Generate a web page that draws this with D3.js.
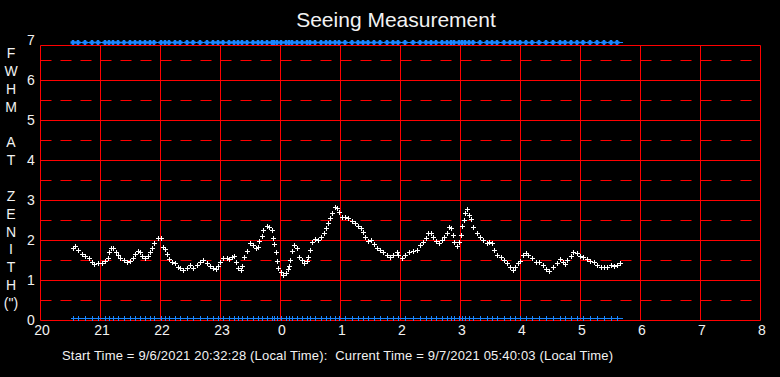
<!DOCTYPE html>
<html>
<head>
<meta charset="utf-8">
<script src="https://cdn.jsdelivr.net/npm/d3@7"></script>
<style>
  html, body { margin: 0; padding: 0; background: #000; }
  svg { display: block; font-family: "Liberation Sans", Arial, sans-serif; }
</style>
</head>
<body>
<svg id="chart" width="780" height="377"></svg>
<script>

/****************************/
/*           Data           */
/****************************/
// measurement times, decimal local hours (past midnight keeps counting: 24 = 0h)
const times = [
  20.555, 20.583, 20.638, 20.695, 20.75, 20.817, 20.862, 20.905, 20.972, 21.038,
  21.083, 21.128, 21.15, 21.183, 21.222, 21.262, 21.295, 21.338, 21.395, 21.45,
  21.505, 21.55, 21.583, 21.628, 21.667, 21.705, 21.75, 21.795, 21.833, 21.872,
  21.905, 21.962, 22.017, 22.055, 22.083, 22.112, 22.15, 22.195, 22.25, 22.305,
  22.333, 22.388, 22.445, 22.5, 22.555, 22.612, 22.667, 22.722, 22.778, 22.833,
  22.888, 22.928, 22.962, 23.0, 23.055, 23.112, 23.15, 23.195, 23.238, 23.267,
  23.305, 23.345, 23.372, 23.405, 23.445, 23.5, 23.555, 23.595, 23.628, 23.65,
  23.695, 23.722, 23.778, 23.817, 23.862, 23.878, 23.905, 23.928, 23.945, 23.972,
  24.017, 24.055, 24.095, 24.128, 24.155, 24.172, 24.195, 24.238, 24.278, 24.317,
  24.362, 24.405, 24.445, 24.472, 24.5, 24.538, 24.583, 24.628, 24.683, 24.728,
  24.772, 24.805, 24.838, 24.872, 24.917, 24.945, 24.983, 25.028, 25.083, 25.138,
  25.195, 25.25, 25.305, 25.35, 25.378, 25.417, 25.472, 25.517, 25.562, 25.612,
  25.667, 25.722, 25.778, 25.833, 25.888, 25.945, 25.972, 26.028, 26.083, 26.155,
  26.222, 26.278, 26.333, 26.388, 26.433, 26.472, 26.512, 26.555, 26.6, 26.655,
  26.695, 26.738, 26.778, 26.822, 26.845, 26.878, 26.905, 26.945, 26.988, 27.012,
  27.038, 27.067, 27.088, 27.122, 27.155, 27.178, 27.222, 27.278, 27.333, 27.388,
  27.445, 27.488, 27.528, 27.567, 27.622, 27.678, 27.733, 27.788, 27.833, 27.878,
  27.917, 27.972, 28.0, 28.055, 28.1, 28.138, 28.195, 28.267, 28.322, 28.378,
  28.433, 28.488, 28.555, 28.612, 28.667, 28.712, 28.75, 28.788, 28.845, 28.888,
  28.945, 29.0, 29.055, 29.112, 29.167, 29.233, 29.288, 29.345, 29.4, 29.455,
  29.512, 29.567, 29.622, 29.667
];

// FWHM at zenith, arcsec
const fwhm = [
  1.81, 1.86, 1.75, 1.64, 1.6, 1.54, 1.46, 1.39, 1.42, 1.43,
  1.47, 1.54, 1.69, 1.79, 1.81, 1.71, 1.63, 1.54, 1.5, 1.46,
  1.47, 1.54, 1.64, 1.73, 1.69, 1.61, 1.56, 1.6, 1.69, 1.79,
  1.92, 2.06, 2.04, 1.83, 1.78, 1.64, 1.52, 1.46, 1.42, 1.33,
  1.3, 1.25, 1.31, 1.38, 1.31, 1.38, 1.46, 1.5, 1.42, 1.35,
  1.29, 1.27, 1.36, 1.46, 1.56, 1.56, 1.53, 1.58, 1.61, 1.46,
  1.29, 1.25, 1.36, 1.58, 1.73, 1.92, 1.88, 1.79, 1.83, 1.98,
  2.11, 2.25, 2.36, 2.33, 2.25, 2.04, 1.89, 1.69, 1.47, 1.31,
  1.21, 1.13, 1.17, 1.27, 1.36, 1.5, 1.73, 1.88, 1.79, 1.58,
  1.5, 1.43, 1.47, 1.58, 1.75, 1.94, 2.02, 2.0, 2.08, 2.17,
  2.29, 2.42, 2.54, 2.67, 2.83, 2.79, 2.69, 2.58, 2.58, 2.54,
  2.48, 2.42, 2.36, 2.29, 2.21, 2.08, 1.98, 2.0, 1.89, 1.79,
  1.75, 1.69, 1.63, 1.58, 1.63, 1.69, 1.63, 1.54, 1.63, 1.71,
  1.73, 1.75, 1.88, 1.96, 2.04, 2.17, 2.18, 2.08, 1.98, 1.93,
  2.0, 2.08, 2.18, 2.33, 2.29, 2.13, 1.96, 1.85, 1.96, 2.13,
  2.35, 2.5, 2.67, 2.77, 2.63, 2.52, 2.33, 2.17, 2.08, 2.0,
  1.92, 1.96, 1.92, 1.75, 1.63, 1.57, 1.5, 1.43, 1.33, 1.25,
  1.32, 1.43, 1.48, 1.63, 1.68, 1.63, 1.54, 1.46, 1.46, 1.38,
  1.27, 1.23, 1.33, 1.43, 1.52, 1.46, 1.4, 1.5, 1.6, 1.69,
  1.67, 1.6, 1.57, 1.52, 1.48, 1.46, 1.38, 1.32, 1.33, 1.32,
  1.38, 1.35, 1.38, 1.42, 1.52
];

const xTicks = [20, 21, 22, 23, 24, 25, 26, 27, 28, 29, 30, 31, 32];
const yTicks = [0, 1, 2, 3, 4, 5, 6, 7];
const yHalfTicks = [0.5, 1.5, 2.5, 3.5, 4.5, 5.5, 6.5];
const yLabelLines = ["F", "W", "H", "M", "", "A", "T", "", "Z", "E", "N", "I", "T", "H", "(\")"];

const title = "Seeing Measurement";
const footer = "Start Time = 9/6/2021 20:32:28 (Local Time):  Current Time = 9/7/2021 05:40:03 (Local Time)";

/****************************/
/*      Scales & frame      */
/****************************/
const svg = d3.select("#chart");

const xScale = d3.scaleLinear().domain([20, 32]).range([40, 760]);
const yScale = d3.scaleLinear().domain([0, 7]).range([320, 40]);

const frameTop = yScale(7) + 5;
const gridColor = "#ff0000";
const markerBlue = "#1a86ff";
const textColor = "#f2f2f2";

svg.append("rect")
  .attr("width", 780)
  .attr("height", 377)
  .attr("fill", "#000");

const grid = svg.append("g").attr("transform", "translate(0.5, 0.5)");

// solid hour lines
grid.selectAll(".v-line")
  .data(xTicks)
  .join("line")
    .attr("class", "v-line")
    .attr("x1", d => Math.round(xScale(d)))
    .attr("x2", d => Math.round(xScale(d)))
    .attr("y1", Math.round(frameTop))
    .attr("y2", Math.round(yScale(0)))
    .attr("stroke", gridColor);

// solid integer lines
grid.selectAll(".h-line")
  .data(yTicks.filter(d => d < 7))
  .join("line")
    .attr("class", "h-line")
    .attr("x1", 40)
    .attr("x2", 760)
    .attr("y1", d => Math.round(yScale(d)))
    .attr("y2", d => Math.round(yScale(d)))
    .attr("stroke", gridColor);

// dashed half lines
grid.selectAll(".h-dash")
  .data(yHalfTicks)
  .join("line")
    .attr("class", "h-dash")
    .attr("x1", 40)
    .attr("x2", 760)
    .attr("y1", d => Math.round(yScale(d)))
    .attr("y2", d => Math.round(yScale(d)))
    .attr("stroke", gridColor)
    .attr("stroke-dasharray", "11,9");

// top border
grid.append("line")
  .attr("x1", 40)
  .attr("x2", 760)
  .attr("y1", Math.round(frameTop))
  .attr("y2", Math.round(frameTop))
  .attr("stroke", gridColor);

/****************************/
/*      Blue time marks     */
/****************************/
const markTimes = times.filter((_, i) => i % 2 === 0);

const plusPath = (cx, cy, r) =>
  `M${cx - r},${cy}H${cx + r}M${cx},${cy - r}V${cy + r}`;

// top row, heavy marks
svg.append("path")
  .attr("d", markTimes.map(t => plusPath(Math.round(xScale(t)), 42.5, 2.5)).join(""))
  .attr("stroke", markerBlue)
  .attr("stroke-width", 2.5)
  .attr("fill", "none");

svg.append("line")
  .attr("x1", xScale(times[0]) - 2)
  .attr("x2", xScale(times[times.length - 1]) + 3)
  .attr("y1", 42.5)
  .attr("y2", 42.5)
  .attr("stroke", markerBlue);

// bottom row, thin marks
svg.append("path")
  .attr("d", markTimes.map(t => plusPath(Math.round(xScale(t)) + 0.5, 318.5, 2.5)).join(""))
  .attr("stroke", markerBlue)
  .attr("stroke-width", 1)
  .attr("fill", "none");

svg.append("line")
  .attr("x1", xScale(times[0]) - 2)
  .attr("x2", xScale(times[times.length - 1]) + 3)
  .attr("y1", 318.5)
  .attr("y2", 318.5)
  .attr("stroke", markerBlue);

/****************************/
/*      Seeing points       */
/****************************/
const points = times.map((t, i) => ({ t, v: fwhm[i] }));

svg.append("g")
  .selectAll(".pt")
  .data(points)
  .join("path")
    .attr("class", "pt")
    .attr("d", d => plusPath(Math.round(xScale(d.t)) + 0.5, Math.round(yScale(d.v)) + 0.5, 2.5))
    .attr("stroke", "#fff")
    .attr("stroke-width", 1)
    .attr("fill", "none");

/****************************/
/*       Axes & labels      */
/****************************/
svg.append("g")
  .selectAll(".x-label")
  .data(xTicks)
  .join("text")
    .attr("class", "x-label")
    .attr("x", d => xScale(d) + 2)
    .attr("y", 335)
    .attr("text-anchor", "middle")
    .attr("fill", textColor)
    .style("font-size", "14px")
    .text(d => d % 24);

svg.append("g")
  .selectAll(".y-label")
  .data(yTicks)
  .join("text")
    .attr("class", "y-label")
    .attr("x", 31)
    .attr("y", d => yScale(d) + 5)
    .attr("text-anchor", "middle")
    .attr("fill", textColor)
    .style("font-size", "14px")
    .text(d => d);

svg.append("g")
  .selectAll(".y-title")
  .data(yLabelLines)
  .join("text")
    .attr("class", "y-title")
    .attr("x", 11)
    .attr("y", (_, i) => 58 + i * 17.85)
    .attr("text-anchor", "middle")
    .attr("fill", textColor)
    .style("font-size", "14px")
    .text(d => d);

svg.append("text")
  .attr("x", 396)
  .attr("y", 27)
  .attr("text-anchor", "middle")
  .attr("fill", textColor)
  .style("font-size", "21px")
  .text(title);

svg.append("text")
  .attr("x", 62)
  .attr("y", 360)
  .attr("fill", textColor)
  .attr("textLength", 551)
  .attr("lengthAdjust", "spacing")
  .style("font-size", "13px")
  .style("white-space", "pre")
  .text(footer);

</script>
</body>
</html>
